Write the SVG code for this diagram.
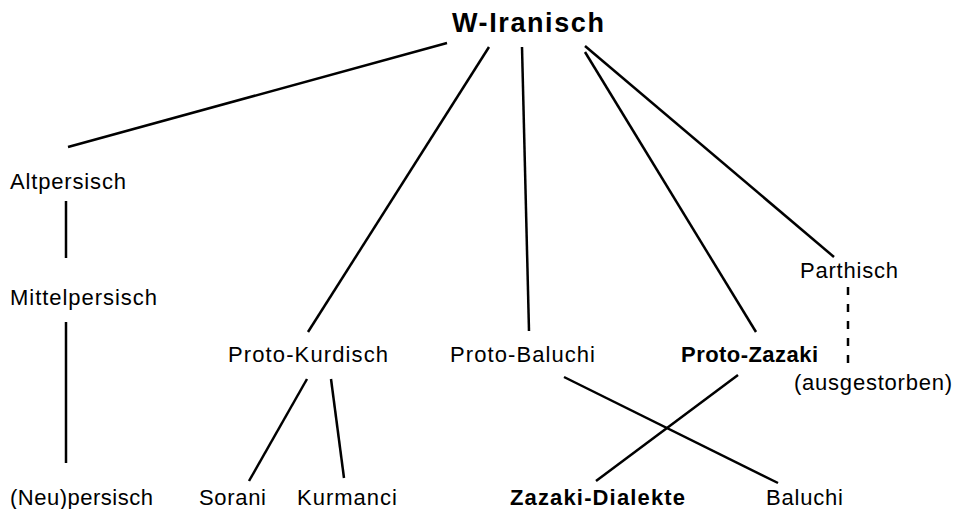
<svg xmlns="http://www.w3.org/2000/svg" width="962" height="509" viewBox="0 0 962 509">
  <style>
    text { font-family: "Liberation Sans", Arial, Helvetica, sans-serif; fill: #000; font-size: 22px; }
    .b { font-weight: bold; }
    .t { font-size: 27px; font-weight: bold; }
    .e { stroke: #000; stroke-width: 2.5; fill: none; }
    .d { stroke-dasharray: 8 9; }
  </style>
  <rect width="962" height="509" fill="#fff"/>
  <g id="connectors">
    <line class="e" x1="447" y1="43" x2="68" y2="147"/>
    <line class="e" x1="489" y1="47" x2="308" y2="332"/>
    <line class="e" x1="522" y1="47" x2="529" y2="331"/>
    <line class="e" x1="585" y1="52" x2="756" y2="332"/>
    <line class="e" x1="585" y1="46" x2="834" y2="257"/>
    <line class="e" x1="66" y1="201" x2="66" y2="258"/>
    <line class="e" x1="66" y1="322" x2="66" y2="463"/>
    <line class="e" x1="307" y1="379" x2="249" y2="481"/>
    <line class="e" x1="331" y1="379" x2="344" y2="478"/>
    <line class="e" x1="564" y1="377" x2="778" y2="483"/>
    <line class="e" x1="738" y1="375" x2="596" y2="481"/>
    <line class="e d" x1="848" y1="287" x2="848" y2="367"/>
  </g>
  <g id="w-iranisch"><text class="t" x="452" y="32" textLength="152" lengthAdjust="spacing">W-Iranisch</text></g>
  <g id="altpersisch"><text x="10" y="189" textLength="116" lengthAdjust="spacing">Altpersisch</text></g>
  <g id="mittelpersisch"><text x="10" y="305" textLength="147" lengthAdjust="spacing">Mittelpersisch</text></g>
  <g id="neupersisch"><text x="10" y="505" textLength="143" lengthAdjust="spacing">(Neu)persisch</text></g>
  <g id="proto-kurdisch"><text x="228" y="362" textLength="160" lengthAdjust="spacing">Proto-Kurdisch</text></g>
  <g id="sorani"><text x="199" y="505" textLength="67" lengthAdjust="spacing">Sorani</text></g>
  <g id="kurmanci"><text x="297" y="505" textLength="100" lengthAdjust="spacing">Kurmanci</text></g>
  <g id="proto-baluchi"><text x="450" y="362" textLength="145" lengthAdjust="spacing">Proto-Baluchi</text></g>
  <g id="baluchi"><text x="766" y="505" textLength="77" lengthAdjust="spacing">Baluchi</text></g>
  <g id="proto-zazaki"><text class="b" x="681" y="362" textLength="137" lengthAdjust="spacing">Proto-Zazaki</text></g>
  <g id="zazaki-dialekte"><text class="b" x="510" y="505" textLength="175" lengthAdjust="spacing">Zazaki-Dialekte</text></g>
  <g id="parthisch"><text x="800" y="278" textLength="98" lengthAdjust="spacing">Parthisch</text></g>
  <g id="ausgestorben"><text x="794" y="390" textLength="158" lengthAdjust="spacing">(ausgestorben)</text></g>
</svg>
